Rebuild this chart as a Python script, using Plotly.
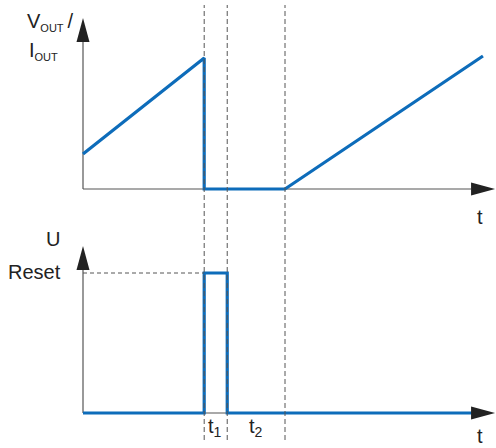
import plotly.graph_objects as go

# Временные точки (усл. единицы)
t_reset_on = 3.0     # начало импульса Reset
t1_end = 3.57        # конец интервала t1
t2_end = 5.0         # конец интервала t2

# Верхний график: V_OUT / I_OUT
t_out = [0, 3.0, 3.0, 5.0, 9.9]
v_out = [3.5, 13.1, 0, 0, 13.3]

# Нижний график: сигнал Reset
t_rst = [0, 3.0, 3.0, 3.57, 3.57, 9.7]
u_rst = [0, 0, 14.0, 14.0, 0, 0]
reset_level = 14.0

W, H = 496, 448
blue = "#0d6cba"
axis_col = "#555555"
ink = "#222222"
font = "Liberation Sans, Arial, sans-serif"


def px(x):
    return x / W


def py(y):
    return 1 - y / H


fig = go.Figure()
fig.add_trace(go.Scatter(x=t_out, y=v_out, mode="lines", xaxis="x", yaxis="y",
                         line=dict(color=blue, width=3.2), hoverinfo="skip"))
fig.add_trace(go.Scatter(x=t_rst, y=u_rst, mode="lines", xaxis="x2", yaxis="y2",
                         line=dict(color=blue, width=3.2), hoverinfo="skip"))

shapes = []

# Оси со стрелками
x_tip = 10.2
ax_len, ax_hw = 0.594, 0.65     # стрелка по x (в ед. x, в ед. y)
ay_len, ay_hw = 2.4, 0.161      # стрелка по y (в ед. y, в ед. x)
for xr, yr, y_tip in [("x", "y", 17.1), ("x2", "y2", 16.7)]:
    shapes.append(dict(type="line", xref=xr, yref=yr, x0=0, x1=x_tip - ax_len, y0=0, y1=0,
                       line=dict(color=axis_col, width=1.2), layer="below"))
    shapes.append(dict(type="line", xref=xr, yref=yr, x0=0, x1=0, y0=0, y1=y_tip - ay_len,
                       line=dict(color=axis_col, width=1.2), layer="below"))
    shapes.append(dict(type="path", xref=xr, yref=yr,
                       path=f"M {x_tip},0 L {x_tip - ax_len},{ax_hw} L {x_tip - ax_len},{-ax_hw} Z",
                       fillcolor=ink, line=dict(width=0)))
    shapes.append(dict(type="path", xref=xr, yref=yr,
                       path=f"M 0,{y_tip} L {ay_hw},{y_tip - ay_len} L {-ay_hw},{y_tip - ay_len} Z",
                       fillcolor=ink, line=dict(width=0)))

# Вертикальные пунктирные линии
for tv in [t_reset_on, t1_end, t2_end]:
    shapes.append(dict(type="line", xref="x", yref="paper", x0=tv, x1=tv,
                       y0=py(440), y1=py(5),
                       line=dict(color=axis_col, width=1, dash="5px,3px")))

# Горизонтальная пунктирная линия уровня Reset
shapes.append(dict(type="line", xref="x2", yref="y2", x0=0, x1=t_reset_on,
                   y0=reset_level, y1=reset_level,
                   line=dict(color=axis_col, width=1, dash="4px,3px")))

sub = "<sub><span style='font-size:11px'>{}</span></sub>"
labels = [
    ("V" + sub.format("OUT") + "\u2009/", 25, 22, "left"),
    ("I" + sub.format("OUT"), 27, 51, "left"),
    ("t", 480, 217, "center"),
    ("t", 480, 436, "center"),
    ("U", 53, 239, "center"),
    ("Reset", 63, 272, "right"),
    ("t" + "<sub>1</sub>", 206, 427, "left"),
    ("t" + "<sub>2</sub>", 247, 427, "left"),
]
annotations = [dict(text=txt, x=px(x), y=py(y), xref="paper", yref="paper",
                    xanchor=xa, yanchor="middle", showarrow=False,
                    font=dict(size=20, color=ink, family=font))
               for txt, x, y, xa in labels]

x_range = [-83 / 40.4, -83 / 40.4 + W / 40.4]
fig.update_layout(
    width=W, height=H,
    margin=dict(l=0, r=0, t=0, b=0),
    paper_bgcolor="white", plot_bgcolor="white",
    showlegend=False,
    xaxis=dict(domain=[0, 1], range=x_range, visible=False, anchor="y"),
    xaxis2=dict(domain=[0, 1], range=x_range, visible=False, anchor="y2"),
    yaxis=dict(domain=[py(200), 1], range=[-1.1, 18.9], visible=False, anchor="x"),
    yaxis2=dict(domain=[0, py(230)], range=[-3.5, 18.3], visible=False, anchor="x2"),
    shapes=shapes,
    annotations=annotations,
    font=dict(family=font),
)

# Убираем отступ body, чтобы график занял всё окно; без панели инструментов
fig.write_html("out.html", config={"displayModeBar": False},
               post_script="document.body.style.margin = '0';")
